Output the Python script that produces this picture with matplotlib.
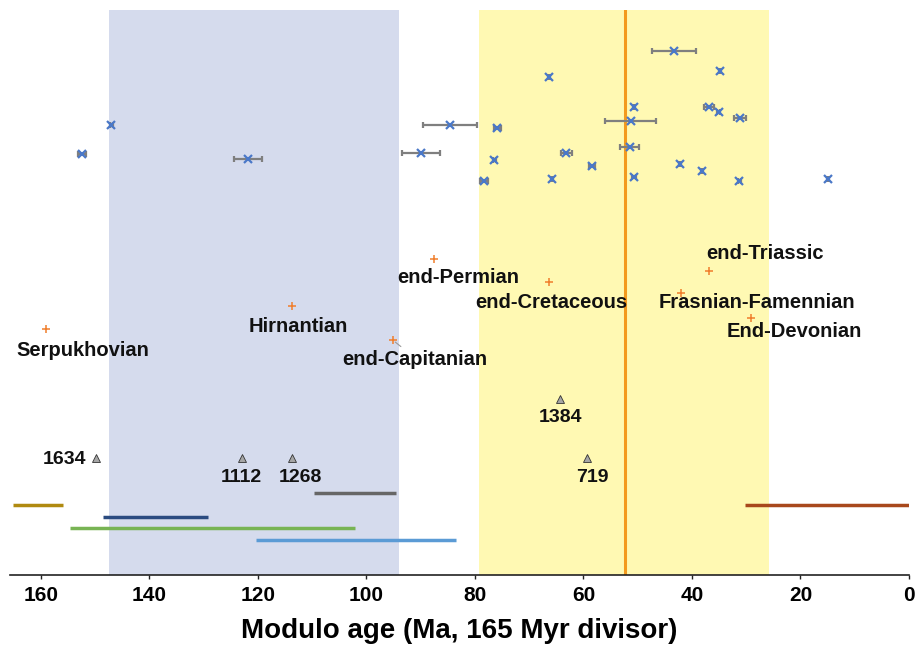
import matplotlib
matplotlib.use("Agg")
import matplotlib.pyplot as plt
from matplotlib import font_manager

# ---------------- data ----------------
# blue "x" points with horizontal error bars (modulo age, vertical stacking row, half-error)
pts_x = [147.0, 152.4, 121.9, 84.6, 89.9, 43.3, 66.4, 34.8, 75.9, 50.7, 36.9, 35.1,
         31.2, 51.3, 51.5, 63.2, 76.4, 58.4, 42.2, 38.2, 78.3, 65.8, 50.7, 31.3, 14.9]
pts_row = [124.7, 154.3, 158.7, 124.7, 153.0, 50.7, 76.7, 71.3, 128.3, 106.7, 106.7, 111.7,
           117.7, 121.0, 147.0, 153.0, 160.0, 166.0, 164.3, 171.3, 181.3, 179.3, 177.3, 181.3, 179.3]
pts_err = [0.2, 0.8, 2.6, 5.0, 3.5, 4.05, 0.2, 0.2, 0.65, 0.2, 0.9, 0.2,
           1.1, 4.7, 1.7, 1.0, 0.2, 0.6, 0.2, 0.2, 0.75, 0.2, 0.4, 0.3, 0.2]

# extinction events (orange +)
ext_names = ["Serpukhovian", "Hirnantian", "end-Capitanian", "end-Permian", "end-Cretaceous",
             "end-Triassic", "Frasnian-Famennian", "End-Devonian"]
ext_x = [159.1, 113.7, 95.1, 87.5, 66.4, 36.8, 42.1, 29.1]
ext_row = [329.0, 306.0, 340.3, 259.3, 282.3, 270.7, 293.3, 317.7]

# triangles with labels
tri_labels = ["1634", "1112", "1268", "1384", "719"]
tri_x = [149.9, 122.9, 113.7, 64.3, 59.4]
tri_row = [458.0, 458.0, 458.0, 399.0, 458.0]

# horizontal range bars
rng_start = [165.2, 148.6, 154.7, 109.7, 120.4, 30.2]
rng_end = [155.9, 129.2, 102.1, 94.6, 83.5, 0.0]
rng_row = [505.0, 517.0, 528.0, 493.0, 540.0, 505.0]
rng_colors = ["#b08a10", "#2b4b80", "#78b454", "#666666", "#5b9bd5", "#a8481c"]

# shaded bands and reference line
blue_band = (147.5, 94.0)
yellow_band = (79.3, 25.8)
ref_line = 52.4

xticks = [160, 140, 120, 100, 80, 60, 40, 20, 0]

# ---------------- figure ----------------
FONT = "Liberation Sans"
fig = plt.figure(figsize=(9.16, 6.5), dpi=100)
ax = fig.add_axes([10 / 916, 75 / 650, 899 / 916, 565 / 650])
ax.set_xlim(165.7, 0)
ax.set_ylim(575, 10)

ax.axvspan(*blue_band, color="#d5dbed", lw=0, zorder=0)
ax.axvspan(*yellow_band, color="#fff9b3", lw=0, zorder=0)
ax.axvline(ref_line, color="#f39a1e", lw=2.2, zorder=1)

ax.errorbar(pts_x, pts_row, xerr=pts_err, fmt="x", color="#4a78c8", ms=5.5, mew=1.6,
            ecolor="#7f7f7f", elinewidth=1.6, capsize=2.5, capthick=1.2, zorder=3)

ax.plot(ext_x, ext_row, "+", color="#f07e2c", ms=6, mew=1.1, zorder=3)

# labels for extinction events (offsets in pixels)
ext_offsets = [(37, -21), (6, -21), (22, -19), (24, -18), (3, -20), (56, 17), (76, -9), (43, -14)]
for name, x, y, off in zip(ext_names, ext_x, ext_row, ext_offsets):
    ax.annotate(name, (x, y), xytext=off, textcoords="offset pixels", ha="center", va="center",
                fontsize=14.5, fontweight="bold", family=FONT, color="#111111", zorder=4)
# leader line for end-Capitanian
ax.annotate("", (ext_x[2], ext_row[2]), xytext=(10, -8), textcoords="offset pixels",
            arrowprops=dict(arrowstyle="-", color="#999999", lw=0.8))

ax.plot(tri_x, tri_row, "^", color="#a6a6a6", mec="#333333", mew=0.6, ms=5.5, zorder=3)
tri_offsets = [(-31, -2), (-1, -19), (8, -19), (0, -19), (6, -19)]
for lab, x, y, off in zip(tri_labels, tri_x, tri_row, tri_offsets):
    ax.annotate(lab, (x, y), xytext=off, textcoords="offset pixels", ha="center", va="center",
                fontsize=14, fontweight="bold", family=FONT, color="#111111", zorder=4)

ax.hlines(rng_row, rng_start, rng_end, colors=rng_colors, lw=2.5, zorder=2)

for s in ["left", "right", "top"]:
    ax.spines[s].set_visible(False)
ax.spines["bottom"].set_linewidth(1.2)
ax.spines["bottom"].set_color("#222222")
ax.set_yticks([])
ax.set_xticks(xticks)
ax.set_xticklabels([str(t) for t in xticks], fontsize=15, family=FONT, fontweight="bold")
ax.tick_params(axis="x", direction="out", length=3, width=1, pad=5, color="#222222")
ax.set_xlabel("Modulo age (Ma, 165 Myr divisor)", fontsize=20, family=FONT,
              fontweight="bold", labelpad=9)

fig.savefig("out.png", dpi=100)
